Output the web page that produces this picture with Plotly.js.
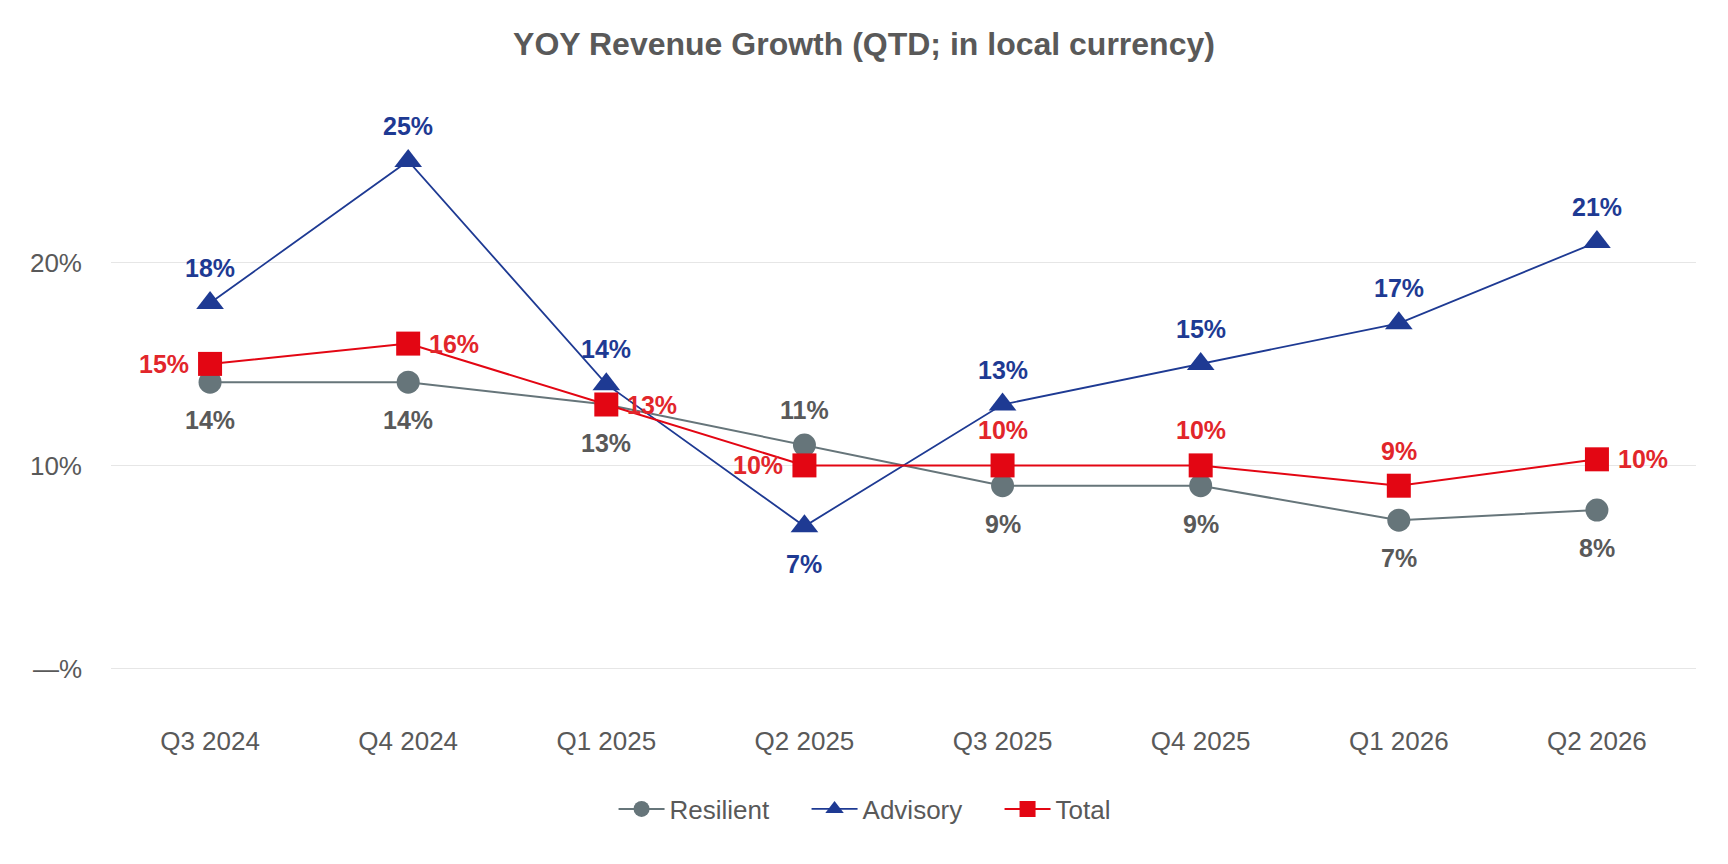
<!DOCTYPE html>
<html>
<head>
<meta charset="utf-8">
<script src="https://cdn.plot.ly/plotly-3.0.1.min.js"></script>
<style>
  html, body { margin: 0; padding: 0; background: #fff; }
  #chart { width: 1728px; height: 864px; }
</style>
</head>
<body>
<div id="chart"></div>
<script>
let quarters = ['Q3 2024', 'Q4 2024', 'Q1 2025', 'Q2 2025', 'Q3 2025', 'Q4 2025', 'Q1 2026', 'Q2 2026'];

// YoY growth, %
let resilient = [14.1, 14.1, 13.0, 11.0, 9.0, 9.0, 7.3, 7.8];
let advisory = [18.0, 25.0, 14.0, 7.0, 13.0, 15.0, 17.0, 21.0];
let total = [15.0, 16.0, 13.0, 10.0, 10.0, 10.0, 9.0, 10.3];

let resilientLabels = ['14%', '14%', '13%', '11%', '9%', '9%', '7%', '8%'];
let advisoryLabels = ['18%', '25%', '14%', '7%', '13%', '15%', '17%', '21%'];
let totalLabels = ['15%', '16%', '13%', '10%', '10%', '10%', '9%', '10%'];

let yTickVals = [0, 10, 20];
let yTickText = ['\u2014%', '10%', '20%'];

// where each data label sits relative to its marker
let resilientSpots = ['b', 'b', 'b', 't', 'b', 'b', 'b', 'b'];
let advisorySpots = ['t', 't', 't', 'b', 't', 't', 't', 't'];
let totalSpots = ['l', 'r', 'r', 'l', 't', 't', 't', 'r'];

const FONT = 'Liberation Sans, Arial, Helvetica, sans-serif';
const GREY = '#66757a';
const NAVY = '#1e3a93';
const RED = '#e30613';

function labelAnnotations(values, labels, spots, color) {
  return values.map(function(v, i) {
    let a = {
      x: quarters[i], y: v, text: labels[i], showarrow: false,
      font: { family: FONT, size: 25, color: color, weight: 'bold' },
      xanchor: 'center', yanchor: 'middle'
    };
    if (spots[i] === 't') a.yshift = 35;
    if (spots[i] === 'b') a.yshift = -38;
    if (spots[i] === 'l') { a.xanchor = 'right'; a.xshift = -19; }
    if (spots[i] === 'r') { a.xanchor = 'left'; a.xshift = 19; }
    return a;
  });
}

let traces = [
  {
    x: quarters, y: resilient, name: 'Resilient', mode: 'lines+markers',
    line: { color: GREY, width: 2 },
    marker: { symbol: 'circle', size: 23, color: GREY }
  },
  {
    x: quarters, y: advisory, name: 'Advisory', mode: 'lines+markers',
    line: { color: NAVY, width: 1.8 },
    marker: { symbol: 'triangle-up', size: 24, color: NAVY }
  },
  {
    x: quarters, y: total, name: 'Total', mode: 'lines+markers',
    line: { color: RED, width: 2 },
    marker: { symbol: 'square', size: 24, color: RED }
  }
];

let annotations = []
  .concat(labelAnnotations(resilient, resilientLabels, resilientSpots, '#595959'))
  .concat(labelAnnotations(advisory, advisoryLabels, advisorySpots, NAVY))
  .concat(labelAnnotations(total, totalLabels, totalSpots, '#e2262b'));

let layout = {
  width: 1728,
  height: 864,
  margin: { l: 111, r: 32, t: 100, b: 155 },
  paper_bgcolor: '#ffffff',
  plot_bgcolor: '#ffffff',
  font: { family: FONT, color: '#595959' },
  title: {
    text: 'YOY Revenue Growth (QTD; in local currency)',
    font: { family: FONT, size: 32, color: '#595959', weight: 'bold' },
    x: 0.5, xanchor: 'center',
    yref: 'container', y: 1 - 44 / 864, yanchor: 'middle'
  },
  xaxis: {
    type: 'category',
    range: [-0.5, 7.5],
    showgrid: false, showline: false, zeroline: false, ticks: '',
    tickfont: { family: FONT, size: 26, color: '#595959' },
    ticklabelstandoff: 14
  },
  yaxis: {
    range: [-2, 28],
    tickvals: yTickVals,
    ticktext: yTickText,
    showline: false, zeroline: false, ticks: '',
    gridcolor: '#e6e6e6', gridwidth: 1.5,
    tickfont: { family: FONT, size: 26, color: '#595959' },
    ticklabelstandoff: 28
  },
  legend: {
    orientation: 'h',
    xref: 'container', x: 0.5226, xanchor: 'center',
    yref: 'container', y: 1 - 809 / 864, yanchor: 'middle',
    font: { family: FONT, size: 26, color: '#595959' },
    itemsizing: 'trace',
    itemwidth: 46,
    entrywidth: 132,
    entrywidthmode: 'pixels'
  },
  annotations: annotations,
  showlegend: true,
  hovermode: false
};

Plotly.newPlot(document.getElementById('chart'), traces, layout, { displayModeBar: false, staticPlot: true });
</script>
</body>
</html>
